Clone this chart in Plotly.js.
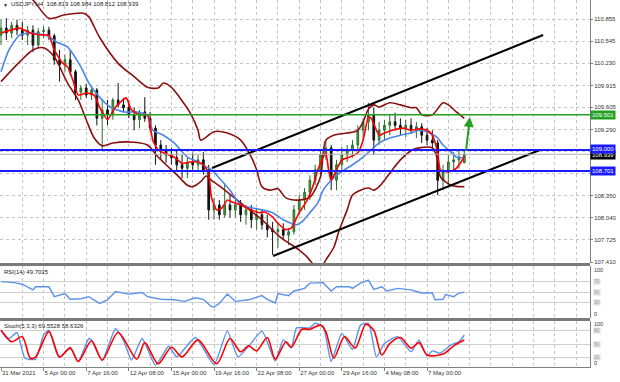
<!DOCTYPE html>
<html><head><meta charset="utf-8">
<script src="https://cdn.plot.ly/plotly-3.0.1.min.js"></script>
<style>html,body{margin:0;padding:0;background:#fff;}#chart{width:620px;height:382px;}</style>
</head><body><div id="chart"></div>
<script>
// ---- data (bar index = H4 bar number) ----
const barIndex = [0,2,4,6,8,10,12,14,16,18,20,22,24,26,28,30,32,34,36,38,40,42,44,46,48,50,52,54,56,58,60,62,64,66,68,70,72,74,76,78,80,82,84,86,88,90,92,94,96,98,100,102,104,106,108,110,112,114,116,118,120,122,124,126,128,130,132,134,136,138,140,142,144,146,148,150,152,154,156,158,160,162,164,166,168,170,172,174];
const openP = [110.63,110.73,110.66,110.77,110.70,110.63,110.70,110.49,110.68,110.70,
 110.62,110.28,110.21,110.28,110.11,109.82,109.88,109.78,109.85,109.45,
 109.57,109.50,109.71,109.64,109.60,109.50,109.43,109.54,109.45,109.31,
 109.07,109.00,108.93,108.89,108.79,108.74,108.83,108.79,108.86,108.72,
 108.15,108.22,108.08,108.22,108.15,108.22,108.08,108.15,108.01,108.08,
 107.94,107.87,107.84,107.87,107.79,107.84,108.15,108.29,108.40,108.57,
 108.72,108.93,109.03,108.57,108.79,108.93,109.00,109.07,109.28,109.40,
 109.50,109.14,109.28,109.35,109.40,109.35,109.31,109.35,109.28,109.33,
 109.21,109.14,109.10,108.57,108.69,108.83,108.86,108.819];
const highP = [110.85,110.87,110.82,110.85,110.82,110.76,110.77,110.73,110.76,110.75,
 110.65,110.42,110.35,110.42,110.14,109.92,109.94,109.91,109.88,109.71,
 109.71,109.74,109.95,109.74,109.71,109.60,109.57,109.75,109.54,109.35,
 109.14,109.07,109.03,109.00,108.93,108.89,108.96,108.93,108.97,108.79,
 108.32,108.29,108.53,108.36,108.29,108.29,108.22,108.22,108.18,108.15,
 108.08,107.98,107.98,107.96,107.89,108.22,108.36,108.46,108.64,108.79,
 109.00,109.14,109.07,108.86,109.04,109.07,109.14,109.35,109.45,109.67,
 109.60,109.40,109.43,109.50,109.53,109.45,109.43,109.45,109.40,109.38,
 109.31,109.28,109.14,108.79,108.93,108.97,109.00,108.984];
const lowP = [110.49,110.56,110.59,110.63,110.56,110.49,110.39,110.45,110.59,110.56,
 110.21,109.97,110.11,110.06,109.71,109.71,109.74,109.71,109.35,109.00,
 109.35,109.43,109.60,109.54,109.45,109.28,109.31,109.40,109.26,108.79,
 108.86,108.82,108.79,108.69,108.60,108.60,108.72,108.69,108.65,108.01,
 108.01,108.01,108.04,108.04,108.05,107.98,107.94,107.89,107.87,107.87,
 107.76,107.51,107.61,107.72,107.65,107.80,108.08,108.15,108.29,108.50,
 108.65,108.86,108.43,108.43,108.72,108.83,108.89,109.00,109.14,109.28,
 108.93,109.07,109.14,109.21,109.28,109.21,109.18,109.23,109.17,109.10,
 109.07,109.03,108.36,108.43,108.50,108.72,108.74,108.812];
const closeP = [110.73,110.66,110.77,110.70,110.63,110.70,110.49,110.68,110.70,110.62,
 110.28,110.21,110.28,110.11,109.82,109.88,109.78,109.85,109.45,109.57,
 109.50,109.71,109.64,109.60,109.50,109.43,109.54,109.45,109.31,109.07,
 109.00,108.93,108.89,108.79,108.74,108.83,108.79,108.86,108.72,108.15,
 108.22,108.08,108.22,108.15,108.22,108.08,108.15,108.01,108.08,107.94,
 107.87,107.84,107.87,107.79,107.84,108.15,108.29,108.40,108.57,108.72,
 108.93,109.03,108.57,108.79,108.93,109.00,109.07,109.28,109.40,109.50,
 109.14,109.28,109.35,109.40,109.35,109.31,109.35,109.28,109.33,109.21,
 109.14,109.10,108.57,108.69,108.83,108.86,108.90,108.939];

const fastMaX = [0,7,11,16,18,20,23,25,27,29,32,35,37,40,43,47,49,52,55,57,59,61,65,68,71,74,76,78,79,81,83,85,87,90,94,97,99,102,104,107,109,110,112,115,117,119,121,122,123,124,126,128,131,134,136,138,139,141,142,144,147,151,154,157,160,162,164,165,168,171,174];
const fastMaY = [110.66,110.73,110.66,110.63,110.63,110.42,110.24,110.18,109.99,109.78,109.81,109.78,109.61,109.43,109.61,109.74,109.57,109.50,109.50,109.14,109.00,108.96,108.90,108.81,108.83,108.83,108.79,108.67,108.33,108.15,108.18,108.29,108.26,108.22,108.15,108.11,108.12,108.05,107.96,107.87,107.89,107.96,108.11,108.29,108.47,108.72,108.90,108.96,108.72,108.57,108.72,108.86,108.90,108.96,109.14,109.47,109.45,109.28,109.21,109.24,109.28,109.31,109.28,109.30,109.28,109.21,108.96,108.72,108.69,108.74,108.90];
const slowMaX = [0,3,7,11,17,21,25,30,33,37,41,46,51,55,57,61,65,70,74,77,79,82,86,90,94,98,102,106,111,113,116,119,121,124,126,129,132,136,139,142,146,150,154,157,161,164,166,169,171,174];
const slowMaY = [110.11,110.42,110.63,110.66,110.63,110.53,110.46,110.18,109.95,109.75,109.61,109.54,109.54,109.50,109.28,109.21,109.10,108.90,108.83,108.76,108.72,108.60,108.43,108.22,108.18,108.15,108.11,108.01,107.94,107.98,108.11,108.25,108.43,108.57,108.64,108.72,108.79,108.90,109.00,109.10,109.17,109.21,109.24,109.28,109.24,109.17,109.07,108.97,108.90,108.89];
const bandUpX = [8,12,18,24,31,33,37,44,50,55,59,61,64,67,71,74,75,80,85,90,94,96,98,101,104,107,112,116,120,121,122,125,130,134,136,138,140,142,146,150,154,156,158,162,166,168,171,174];
const bandUpY = [111.25,111.13,110.87,110.92,110.94,110.89,110.60,110.23,110.04,109.89,109.88,109.95,109.89,109.75,109.53,109.28,109.14,109.26,109.24,109.14,108.90,108.72,108.48,108.43,108.45,108.32,108.29,108.33,108.62,108.96,109.14,109.21,109.24,109.28,109.40,109.58,109.64,109.61,109.67,109.64,109.60,109.60,109.50,109.50,109.67,109.64,109.54,109.45];
const bandLoX = [0,7,12,16,20,25,29,32,35,38,42,50,55,59,62,66,70,72,75,77,79,82,90,98,105,112,115,118,120,122,125,127,130,132,135,138,140,142,145,147,150,154,157,162,164,165,169,172,174];
const bandLoY = [109.97,110.25,110.42,110.45,110.32,109.95,109.71,109.43,109.17,109.06,109.10,109.11,109.07,108.90,108.79,108.65,108.50,108.48,108.55,108.63,108.57,108.49,108.25,108.01,107.76,107.58,107.48,107.35,107.32,107.44,107.62,107.86,108.15,108.36,108.43,108.46,108.43,108.48,108.62,108.72,108.86,108.99,109.03,109.03,108.86,108.62,108.50,108.48,108.48];

const rsiX = [0,5,8,12,13,18,20,24,26,30,33,37,40,43,48,53,55,60,65,69,73,76,79,80,82,85,88,93,98,100,103,104,108,110,114,116,121,124,126,131,132,135,138,140,143,145,149,154,156,158,162,163,166,167,170,172,174];
const rsiY = [70,68,65,54,60,60,41,47,36,37,41,28,35,51,46,49,41,36,35,32,39,36,22,21,28,46,32,35,43,36,29,47,43,52,57,67,68,52,60,60,57,67,73,55,60,52,57,54,51,48,48,35,36,45,41,48,49.7035];
const stochMainX = [0,3,6,9,13,16,18,21,22,26,29,33,34,38,43,46,49,53,58,63,66,73,80,85,89,93,98,103,106,109,111,116,118,121,124,128,132,135,138,141,144,149,154,157,160,162,165,169,172,174];
const stochMainY = [80,62,75,19,17,70,80,29,21,43,12,62,58,15,83,58,15,62,4,45,22,64,5,78,22,45,78,13,59,41,85,85,95,88,12,73,38,91,95,22,51,66,33,59,24,35,30,48,55,69.5528];
const stochSigX = [0,4,8,11,13,18,22,26,29,34,38,44,51,54,59,64,68,74,81,86,90,93,96,100,103,107,109,113,116,120,122,125,129,133,137,140,143,146,150,154,157,160,166,170,174];
const stochSigY = [80,55,66,19,22,77,22,41,12,57,15,75,17,53,7,43,22,59,7,62,33,46,35,64,17,55,43,82,82,91,77,19,66,41,93,80,26,51,64,41,53,26,28,46,58.6326];

const priceTicks = [110.855,110.545,110.230,109.915,109.605,109.290,108.975,108.660,108.350,108.040,107.725,107.410];
const hiddenTicks = [108.975,108.660]; // covered by the price tags in the reference
const dateTicks = [0,16,32,48,64,80,96,112,128,144,160];
const dateLabels = ['31 Mar 2021','5 Apr 00:00','7 Apr 16:00','12 Apr 08:00','15 Apr 00:00','19 Apr 16:00','22 Apr 08:00','27 Apr 00:00','29 Apr 16:00','4 May 08:00','7 May 00:00'];

const chanUpX = [79.25,203.6], chanUpY = [108.744,110.632];
const chanLoX = [102.2,202.4], chanLoY = [107.495,109.000];
const arrowFrom = [174.6,108.97], arrowTo = [176.1,109.47];
const levelGreen = 109.501, levelBlueHi = 109.000, levelBlueLo = 108.701, lastPrice = 108.939;
const header = 'USDJPY,H4  108.819 108.984 108.812 108.939';
const rsiLabel = 'RSI(14) 49.7035';
const stochLabel = 'Stoch(5,3,3) 69.5528 58.6326';

// ---- styling ----
const FONT = '"Liberation Sans", Arial, sans-serif';
const GRID = '#c4c4c4';
const AXC = '#808080';
const tf = {family: FONT, size: 6, color: '#333'};

const traces = [
  {type:'candlestick', x:barIndex, open:openP, high:highP, low:lowP, close:closeP, xaxis:'x', yaxis:'y',
   increasing:{line:{color:'#2b6e2b', width:1}, fillcolor:'#3fa83f'},
   decreasing:{line:{color:'#111', width:1}, fillcolor:'#111'}, whiskerwidth:0, hoverinfo:'skip'},
  {type:'scatter', mode:'lines', x:bandUpX, y:bandUpY, line:{color:'#8b1010', width:1.6, shape:'spline', smoothing:0.8}, yaxis:'y', hoverinfo:'skip'},
  {type:'scatter', mode:'lines', x:bandLoX, y:bandLoY, line:{color:'#8b1010', width:1.6, shape:'spline', smoothing:0.8}, yaxis:'y', hoverinfo:'skip'},
  {type:'scatter', mode:'lines', x:slowMaX, y:slowMaY, line:{color:'#4a86e8', width:1.6, shape:'spline', smoothing:0.6}, yaxis:'y', hoverinfo:'skip'},
  {type:'scatter', mode:'lines', x:fastMaX, y:fastMaY, line:{color:'#ff0000', width:1.6, shape:'spline', smoothing:0.5}, yaxis:'y', hoverinfo:'skip'},
  {type:'scatter', mode:'lines', x:chanUpX, y:chanUpY, line:{color:'#000', width:2}, yaxis:'y', hoverinfo:'skip'},
  {type:'scatter', mode:'lines', x:chanLoX, y:chanLoY, line:{color:'#000', width:2}, yaxis:'y', hoverinfo:'skip'},
  {type:'scatter', mode:'lines', x:rsiX, y:rsiY, line:{color:'#5b92ea', width:1.4}, yaxis:'y2', hoverinfo:'skip'},
  {type:'scatter', mode:'lines', x:stochMainX, y:stochMainY, line:{color:'#5b92ea', width:1.4, shape:'spline', smoothing:0.5}, yaxis:'y3', hoverinfo:'skip'},
  {type:'scatter', mode:'lines', x:stochSigX, y:stochSigY, line:{color:'#ff0000', width:1.6, shape:'spline', smoothing:0.8}, yaxis:'y3', hoverinfo:'skip'}
];

function hline(y, color, width) {
  return {type:'line', xref:'paper', x0:0, x1:1, yref:'y', y0:y, y1:y, line:{color:color, width:width}, layer:'above'};
}
function tag(y, text, bg, shift) {
  return {xref:'paper', x:1, xanchor:'left', xshift:0, yref:'y', y:y, yanchor:'middle', yshift:shift || 0, text:text, showarrow:false,
    bgcolor:bg, borderpad:1, font:{family:FONT, size:6, color:'#fff'}};
}
function lvl(yref, y, text) {
  return {xref:'paper', x:1, xanchor:'left', xshift:3, yref:yref, y:y, yanchor:'middle', text:text, showarrow:false,
    bgcolor:'#dcdcdc', borderpad:0, font:{family:FONT, size:4.5, color:'#a8a8a8'}};
}
function edge(yref, y, text, anchor, shift) {
  return {xref:'paper', x:1, xanchor:'left', xshift:2, yref:yref, y:y, yanchor:anchor, yshift:shift || 0, text:text, showarrow:false,
    font:{family:FONT, size:5.5, color:'#333'}};
}

const layout = {
  width:620, height:382,
  margin:{l:0, r:30, t:0, b:15},
  paper_bgcolor:'#fff', plot_bgcolor:'#fff',
  showlegend:false, boxgap:0.55, hovermode:false,
  xaxis:{domain:[0,1], anchor:'y3', range:[-0.376,221.2], tickmode:'array', tickvals:dateTicks, ticktext:dateLabels,
    tickangle:0, automargin:false,
    ticks:'outside', ticklen:3, tickcolor:AXC, ticklabelposition:'outside right', tickfont:tf,
    showgrid:true, gridcolor:GRID, griddash:'dot', gridwidth:1,
    minor:{tickmode:'linear', tick0:0, dtick:8, showgrid:true, gridcolor:GRID, griddash:'dot', ticks:''},
    showline:true, linecolor:AXC, linewidth:1, zeroline:false, rangeslider:{visible:false}, fixedrange:true},
  yaxis:{domain:[0.28338,1], range:[107.396,111.129], side:'right', tickmode:'array', tickvals:priceTicks,
    ticktext:priceTicks.map(v => hiddenTicks.includes(v) ? '' : v.toFixed(3)), tickfont:tf, ticks:'outside', ticklen:2, tickcolor:AXC,
    automargin:false,
    showgrid:true, gridcolor:GRID, griddash:'dot', showline:true, linecolor:AXC, linewidth:1, zeroline:false, fixedrange:true},
  yaxis2:{domain:[0.13351,0.27520], range:[0,100], side:'right', anchor:'x', tickmode:'array', tickvals:[30,50,70],
    showticklabels:false, ticks:'', showgrid:true, gridcolor:'#cfcfcf', showline:true, linecolor:AXC, zeroline:false, fixedrange:true},
  yaxis3:{domain:[0,0.12534], range:[0,100], side:'right', anchor:'x', tickmode:'array', tickvals:[20,50,80],
    showticklabels:false, ticks:'', showgrid:true, gridcolor:'#cfcfcf', showline:true, linecolor:AXC, zeroline:false, fixedrange:true},
  shapes:[
    {type:'rect', xref:'paper', x0:0, x1:1, yref:'paper', y0:0.2752, y1:0.28338, fillcolor:'#7a7a7a', line:{width:0}},
    {type:'rect', xref:'paper', x0:0, x1:1, yref:'paper', y0:0.12534, y1:0.13351, fillcolor:'#7a7a7a', line:{width:0}},
    hline(lastPrice, '#b0b0b0', 1),
    hline(levelGreen, '#22a022', 1.5),
    hline(levelBlueHi, '#1a1aff', 2),
    hline(levelBlueLo, '#1a1aff', 2)
  ],
  annotations:[
    {xref:'paper', x:0, xanchor:'left', xshift:1, yref:'paper', y:1, yanchor:'top', yshift:0, text:'▼', showarrow:false, font:{family:FONT, size:5, color:'#222'}},
    {xref:'paper', x:0, xanchor:'left', xshift:9, yref:'paper', y:1, yanchor:'top', yshift:1, text:header, showarrow:false, font:{family:FONT, size:6, color:'#222'}},
    {xref:'paper', x:0, xanchor:'left', xshift:2, yref:'y2', y:100, yanchor:'top', yshift:-1, text:rsiLabel, showarrow:false, font:{family:FONT, size:6, color:'#222'}},
    {xref:'paper', x:0, xanchor:'left', xshift:2, yref:'y3', y:100, yanchor:'top', yshift:0, text:stochLabel, showarrow:false, font:{family:FONT, size:6, color:'#222'}},
    tag(lastPrice, lastPrice.toFixed(3), '#000', -1),
    tag(levelBlueHi, levelBlueHi.toFixed(3), '#1a1aff', 1),
    tag(levelBlueLo, levelBlueLo.toFixed(3), '#1a1aff'),
    tag(levelGreen, levelGreen.toFixed(3), '#22a022'),
    edge('y2', 100, '100', 'top', 1), edge('y2', 0, '0', 'bottom', -1),
    lvl('y2', 70, '70'), lvl('y2', 50, '50'), lvl('y2', 30, '30'),
    edge('y3', 100, '100', 'top', 2), edge('y3', 0, '0', 'bottom', -1),
    lvl('y3', 80, '80'), lvl('y3', 50, '50'), lvl('y3', 20, '20'),
    {xref:'x', yref:'y', x:arrowTo[0], y:arrowTo[1], axref:'x', ayref:'y', ax:arrowFrom[0], ay:arrowFrom[1], text:'',
     showarrow:true, arrowhead:2, arrowsize:1, arrowwidth:2, arrowcolor:'#22a022'}
  ]
};

Plotly.newPlot('chart', traces, layout, {staticPlot:true, displayModeBar:false});
</script></body></html>
